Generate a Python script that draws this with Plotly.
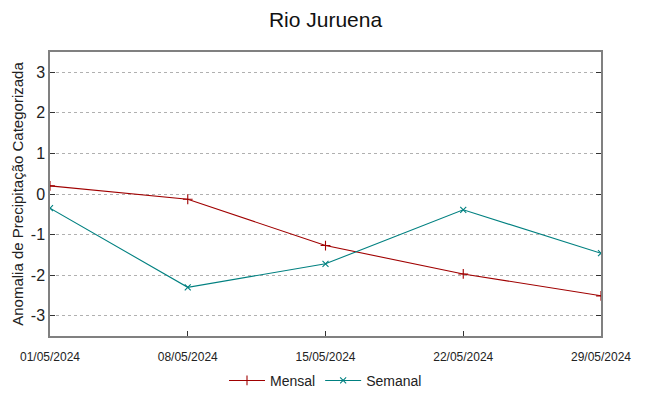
import plotly.graph_objects as go

datas = ["2024-05-01", "2024-05-08", "2024-05-15", "2024-05-22", "2024-05-29"]
rotulos_x = ["01/05/2024", "08/05/2024", "15/05/2024", "22/05/2024", "29/05/2024"]
mensal = [0.20, -0.13, -1.27, -1.97, -2.51]
semanal = [-0.35, -2.30, -1.72, -0.39, -1.46]
ticks_y = [-3, -2, -1, 0, 1, 2, 3]
rotulos_y = ["-3", "-2", "-1", "0", "1", "2", "3"]

fig = go.Figure()
fig.add_trace(go.Scatter(
    x=datas, y=mensal, name="Mensal", mode="lines+markers",
    line=dict(color="#a00000", width=1.1),
    marker=dict(symbol="cross-thin", size=7, line=dict(color="#a00000", width=1.1)),
))
fig.add_trace(go.Scatter(
    x=datas, y=semanal, name="Semanal", mode="lines+markers",
    line=dict(color="#008080", width=1.1),
    marker=dict(symbol="x-thin", size=6, line=dict(color="#008080", width=1.1)),
))

# page body has an 8px margin, so the figure is sized to fit the window
fig.update_layout(
    width=641, height=388,
    margin=dict(l=42, r=48, t=44, b=60, autoexpand=False),
    paper_bgcolor="white", plot_bgcolor="white",
    font=dict(family="Liberation Sans, Arial, sans-serif", color="#222"),
    title=dict(text="Rio Juruena", xref="paper", x=0.5, xanchor="center",
               yref="container", y=0.99, yanchor="top",
               font=dict(size=21, color="#111")),
    showlegend=True,
    legend=dict(orientation="h", x=0.5, xanchor="center", y=-0.158, yanchor="middle",
                font=dict(size=14, color="#222"), itemwidth=36,
                bgcolor="rgba(0,0,0,0)"),
)
fig.update_xaxes(
    type="date", range=[datas[0], datas[-1]],
    tickvals=datas, ticktext=rotulos_x,
    showgrid=False, zeroline=False, automargin=False,
    showline=True, mirror=True, linecolor="#808080", linewidth=1.5,
    ticks="inside", ticklen=5, tickcolor="#333", tickwidth=1,
    ticklabelstandoff=9,
    tickfont=dict(size=12, color="#222"),
)
fig.update_yaxes(
    range=[-3.5, 3.5], tickvals=ticks_y, ticktext=rotulos_y,
    showgrid=True, gridcolor="#b0b0b0", griddash="dot", gridwidth=1,
    zeroline=False, automargin=False,
    showline=True, mirror="allticks", linecolor="#808080", linewidth=1.5,
    ticks="inside", ticklen=5, tickcolor="#333", tickwidth=1,
    tickfont=dict(size=16, color="#222"),
    title=dict(text="Anomalia de Precipitação Categorizada", font=dict(size=15, color="#222"), standoff=4),
)

fig.write_html("out.html")
